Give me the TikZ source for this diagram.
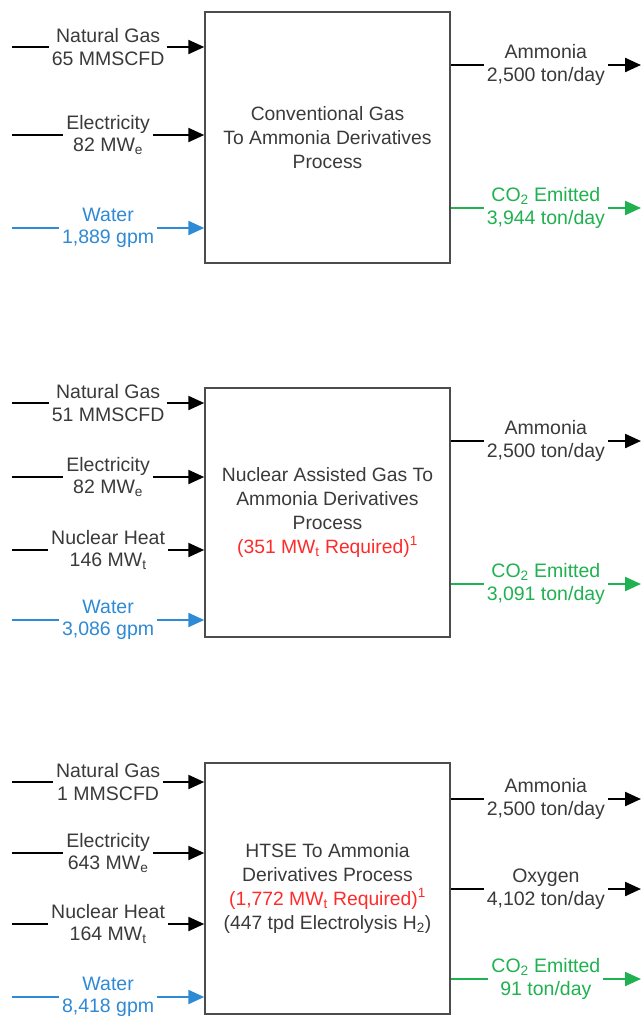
\documentclass[tikz,border=0pt]{standalone}
\usepackage{fontspec}
\setmainfont{Liberation Sans}
\usetikzlibrary{arrows.meta}
\definecolor{txt}{HTML}{3A3A3A}
\definecolor{wblue}{HTML}{2F8AD6}
\definecolor{cgreen}{HTML}{20B150}
\definecolor{req}{HTML}{FF2A2A}
\begin{document}
\begin{tikzpicture}[x=1pt,y=-1pt,
  proc/.style={draw=black!70, line width=1.5pt, minimum width=245pt, text=txt, align=center, font=\fontsize{19.3}{23.7}\selectfont},
  flow/.style={line width=2.3pt, -{Triangle[length=16pt,width=14pt]}},
  lab/.style={fill=white, inner xsep=3pt, inner ysep=0pt, align=center, text=txt, font=\fontsize{19.5}{22.5}\selectfont},
  bluef/.style={flow, draw=wblue},
  greenf/.style={flow, draw=cgreen},
  bluel/.style={lab, text=wblue},
  greenl/.style={lab, text=cgreen},
]
\useasboundingbox (0,0) rectangle (641,1017);

% ---------- Box 1 ----------
\node[proc, minimum height=251pt] (b1) at (327.5,137.5) {Conventional Gas\\To Ammonia Derivatives\\Process};
\coordinate (ng1) at (12,47);
\coordinate (el1) at (12,135);
\coordinate (wa1) at (12,228);
\coordinate (am1) at (641,65);
\coordinate (co1) at (641,208);
\draw[flow] (ng1) -- node[lab]{Natural Gas\\65 MMSCFD} (ng1 -| b1.west);
\draw[flow] (el1) -- node[lab]{Electricity\\82 MW\textsubscript{e}} (el1 -| b1.west);
\draw[bluef] (wa1) -- node[bluel]{Water\\1,889 gpm} (wa1 -| b1.west);
\draw[flow] (am1 -| b1.east) -- node[lab]{Ammonia\\2,500 ton/day} (am1);
\draw[greenf] (co1 -| b1.east) -- node[greenl]{CO\textsubscript{2} Emitted\\3,944 ton/day} (co1);

% ---------- Box 2 ----------
\node[proc, minimum height=249pt] (b2) at (327.5,512.5) {Nuclear Assisted Gas To\\Ammonia Derivatives\\Process\\\textcolor{req}{(351 MW\textsubscript{t} Required)\textsuperscript{1}}};
\coordinate (ng2) at (12,403);
\coordinate (el2) at (12,477);
\coordinate (nh2) at (12,550);
\coordinate (wa2) at (12,620);
\coordinate (am2) at (641,441);
\coordinate (co2) at (641,584);
\draw[flow] (ng2) -- node[lab]{Natural Gas\\51 MMSCFD} (ng2 -| b2.west);
\draw[flow] (el2) -- node[lab]{Electricity\\82 MW\textsubscript{e}} (el2 -| b2.west);
\draw[flow] (nh2) -- node[lab]{Nuclear Heat\\146 MW\textsubscript{t}} (nh2 -| b2.west);
\draw[bluef] (wa2) -- node[bluel]{Water\\3,086 gpm} (wa2 -| b2.west);
\draw[flow] (am2 -| b2.east) -- node[lab]{Ammonia\\2,500 ton/day} (am2);
\draw[greenf] (co2 -| b2.east) -- node[greenl]{CO\textsubscript{2} Emitted\\3,091 ton/day} (co2);

% ---------- Box 3 ----------
\node[proc, minimum height=251pt] (b3) at (327.5,888.5) {HTSE To Ammonia\\Derivatives Process\\\textcolor{req}{(1,772 MW\textsubscript{t} Required)\textsuperscript{1}}\\(447 tpd Electrolysis H\textsubscript{2})};
\coordinate (ng3) at (12,782);
\coordinate (el3) at (12,853);
\coordinate (nh3) at (12,924);
\coordinate (wa3) at (12,997);
\coordinate (am3) at (641,799);
\coordinate (ox3) at (641,889);
\coordinate (co3) at (641,979);
\draw[flow] (ng3) -- node[lab]{Natural Gas\\1 MMSCFD} (ng3 -| b3.west);
\draw[flow] (el3) -- node[lab]{Electricity\\643 MW\textsubscript{e}} (el3 -| b3.west);
\draw[flow] (nh3) -- node[lab]{Nuclear Heat\\164 MW\textsubscript{t}} (nh3 -| b3.west);
\draw[bluef] (wa3) -- node[bluel]{Water\\8,418 gpm} (wa3 -| b3.west);
\draw[flow] (am3 -| b3.east) -- node[lab]{Ammonia\\2,500 ton/day} (am3);
\draw[flow] (ox3 -| b3.east) -- node[lab]{Oxygen\\4,102 ton/day} (ox3);
\draw[greenf] (co3 -| b3.east) -- node[greenl]{CO\textsubscript{2} Emitted\\91 ton/day} (co3);
\end{tikzpicture}
\end{document}
